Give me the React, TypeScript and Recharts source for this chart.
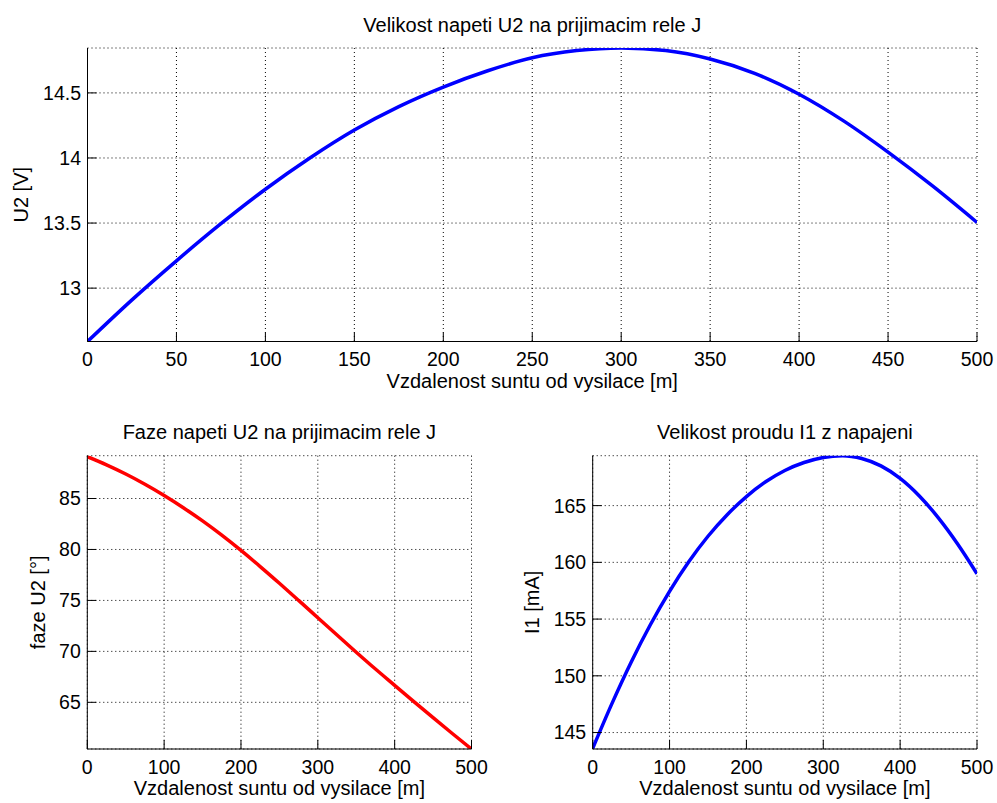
import { LineChart, Line, XAxis, YAxis, CartesianGrid } from 'recharts';

const FONT = "Arial, 'Liberation Sans', Helvetica, sans-serif";

// distance of the shunt from the transmitter [m]
const distance = [0, 25, 50, 75, 100, 125, 150, 175, 200, 225, 250, 275, 300, 325, 350, 375, 400, 425, 450, 475, 500];

// U2 magnitude [V]
const u2Magnitude = [12.59, 12.91, 13.21, 13.495, 13.76, 14.0, 14.215, 14.395, 14.545, 14.67, 14.77, 14.825, 14.845, 14.825, 14.76, 14.65, 14.49, 14.285, 14.045, 13.785, 13.505];
// U2 phase [deg]
const u2Phase = [89.1, 88.3, 87.4, 86.4, 85.3, 84.1, 82.8, 81.4, 79.9, 78.32, 76.68, 75.0, 73.3, 71.6, 69.92, 68.27, 66.67, 65.07, 63.49, 61.94, 60.42];
// I1 current [mA]
const i1Current = [143.6, 147.55, 151.2, 154.5, 157.45, 160.05, 162.3, 164.2, 165.8, 167.1, 168.1, 168.8, 169.25, 169.4, 169.15, 168.5, 167.4, 165.85, 163.9, 161.6, 159.0];

const xTicksTop = [0, 50, 100, 150, 200, 250, 300, 350, 400, 450, 500];
const xTicksBottom = [0, 100, 200, 300, 400, 500];
const u2Ticks = [13, 13.5, 14, 14.5];
const phaseTicks = [65, 70, 75, 80, 85];
const currentTicks = [145, 150, 155, 160, 165];

const toRows = (ys: number[]) => distance.map((x, i) => ({ x, y: ys[i] }));

type PanelProps = {
  values: number[];
  color: string;
  domain: [number, number];
  yTicks: number[];
  xTicks: number[];
  box: { left: number; top: number; width: number; height: number };
  plot: { left: number; top: number; right: number; bottom: number };
};

function Panel({ values, color, domain, yTicks, xTicks, box, plot }: PanelProps) {
  const tick = { fill: '#000', fontSize: 19.5, fontFamily: FONT };
  return (
    <div style={{ position: 'absolute', left: box.left, top: box.top }}>
      <LineChart
        width={box.width}
        height={box.height}
        data={toRows(values)}
        margin={{ top: plot.top - box.top, right: box.left + box.width - plot.right, left: 0, bottom: 0 }}
      >
        <CartesianGrid stroke="#000" strokeDasharray="1 3" />
        <XAxis
          type="number"
          dataKey="x"
          domain={[0, 500]}
          ticks={xTicks}
          interval={0}
          allowDataOverflow
          height={box.top + box.height - plot.bottom}
          tickSize={-9}
          tickMargin={19.7}
          tick={tick}
          axisLine={{ stroke: '#000' }}
          tickLine={{ stroke: '#000' }}
        />
        <YAxis
          type="number"
          domain={domain}
          ticks={yTicks}
          interval={0}
          allowDataOverflow
          width={plot.left - box.left}
          tickSize={-9}
          tickMargin={15.5}
          tick={tick}
          axisLine={{ stroke: '#000' }}
          tickLine={{ stroke: '#000' }}
        />
        <Line type="monotone" dataKey="y" stroke={color} strokeWidth={3.5} dot={false} isAnimationActive={false} />
      </LineChart>
    </div>
  );
}

export default function App() {
  const xLabel = 'Vzdalenost suntu od vysilace [m]';
  return (
    <div style={{ position: 'absolute', left: 0, top: 0, width: 997, height: 803, background: '#fff' }}>
      <Panel
        values={u2Magnitude}
        color="#0000ff"
        domain={[12.59, 14.845]}
        yTicks={u2Ticks}
        xTicks={xTicksTop}
        box={{ left: 0, top: 0, width: 997, height: 400 }}
        plot={{ left: 87.5, top: 48, right: 977, bottom: 341.5 }}
      />
      <Panel
        values={u2Phase}
        color="#ff0000"
        domain={[60.42, 89.2]}
        yTicks={phaseTicks}
        xTicks={xTicksBottom}
        box={{ left: 0, top: 400, width: 500, height: 403 }}
        plot={{ left: 87.3, top: 455.7, right: 471.5, bottom: 749 }}
      />
      <Panel
        values={i1Current}
        color="#0000ff"
        domain={[143.55, 169.4]}
        yTicks={currentTicks}
        xTicks={xTicksBottom}
        box={{ left: 500, top: 400, width: 497, height: 403 }}
        plot={{ left: 592.7, top: 455.7, right: 977, bottom: 749 }}
      />
      <svg
        width={997}
        height={803}
        style={{ position: 'absolute', left: 0, top: 0, pointerEvents: 'none' }}
        fontFamily={FONT}
        fontSize={20}
        fill="#000"
      >
        <text x={532.25} y={32} textAnchor="middle">Velikost napeti U2 na prijimacim rele J</text>
        <text x={532.25} y={387.5} textAnchor="middle">{xLabel}</text>
        <text x={28} y={194.75} textAnchor="middle" transform="rotate(-90 28 194.75)">U2 [V]</text>

        <text x={279.4} y={439} textAnchor="middle">Faze napeti U2 na prijimacim rele J</text>
        <text x={279.4} y={795} textAnchor="middle">{xLabel}</text>
        <text x={44.6} y={602.35} textAnchor="middle" transform="rotate(-90 44.6 602.35)">faze U2 [°]</text>

        <text x={784.9} y={439} textAnchor="middle">Velikost proudu I1 z napajeni</text>
        <text x={784.9} y={795} textAnchor="middle">{xLabel}</text>
        <text x={539} y={602.35} textAnchor="middle" transform="rotate(-90 539 602.35)">I1 [mA]</text>
      </svg>
    </div>
  );
}
